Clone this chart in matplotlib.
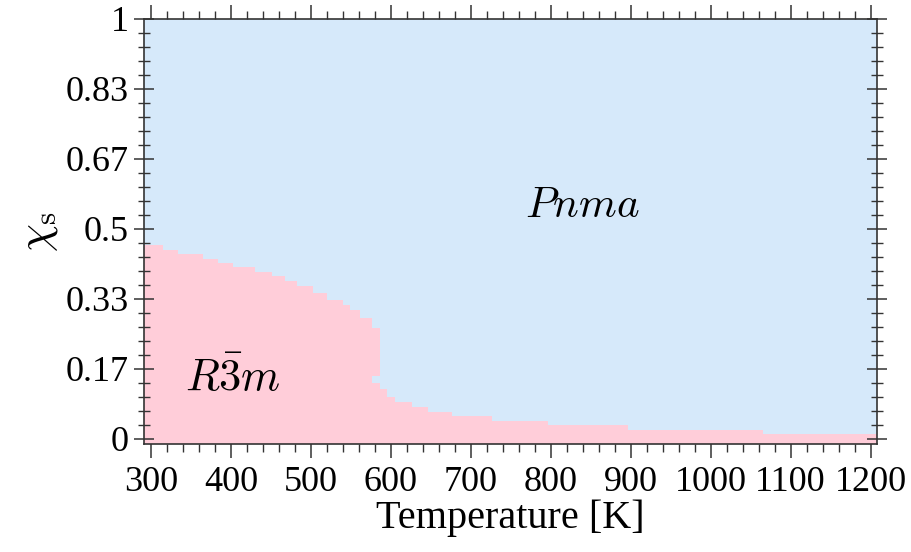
import matplotlib
matplotlib.use('Agg')
import matplotlib.pyplot as plt
import numpy as np
from matplotlib.ticker import MultipleLocator, FixedLocator

plt.rcParams['font.family'] = 'serif'
plt.rcParams['font.serif'] = ['Liberation Serif', 'DejaVu Serif']
plt.rcParams['mathtext.fontset'] = 'cm'

# phase boundary: temperature bin edges [K] and chi_s at which R-3m -> Pnma
T_edges = [290, 315, 334, 365, 384, 402, 430, 451, 468, 482, 502, 520, 540, 549,
           561, 576, 586, 595, 605, 626, 646, 676, 726, 796, 896, 1065, 1210]
chi_boundary = [0.462, 0.450, 0.440, 0.428, 0.418, 0.410, 0.398, 0.387, 0.375,
                0.363, 0.347, 0.331, 0.319, 0.307, 0.288, 0.264, 0.118, 0.100,
                0.088, 0.076, 0.064, 0.055, 0.043, 0.032, 0.021, 0.012]

# small Pnma pocket inside the R-3m column near 580 K
pocket_T = [576, 586]
pocket_chi = [0.133, 0.150]

y_ticks = [0, 1/6, 2/6, 3/6, 4/6, 5/6, 1]
y_ticklabels = ['0', '0.17', '0.33', '0.5', '0.67', '0.83', '1']

pink = '#ffcdd9'
blue = '#d6e9fa'

fig = plt.figure(figsize=(9.11, 5.52), dpi=100)
ax = fig.add_axes([0.158, 0.1957, 0.8047, 0.7699])
ax.set_facecolor(blue)

ax.stairs(chi_boundary, T_edges, baseline=-0.05, fill=True, color=pink, lw=0)
ax.bar((pocket_T[0] + pocket_T[1]) / 2, pocket_chi[1] - pocket_chi[0],
       width=pocket_T[1] - pocket_T[0], bottom=pocket_chi[0], color=blue, lw=0)

ax.text(840, 0.552, r'$Pnma$', fontsize=31, ha='center', va='center')
ax.text(402, 0.145, r'$R\bar{3}m$', fontsize=32, ha='center', va='center')

ax.set_xlim(291, 1208)
ax.set_ylim(-0.012, 1.0)

ax.xaxis.set_major_locator(MultipleLocator(100))
ax.xaxis.set_minor_locator(MultipleLocator(20))
ax.yaxis.set_major_locator(FixedLocator(y_ticks))
ax.set_yticklabels(y_ticklabels)
ax.yaxis.set_minor_locator(MultipleLocator(1/30))

ax.tick_params(axis='x', which='both', direction='out', top=True, bottom=True,
               labelsize=26, color='#333333', pad=6)
ax.tick_params(axis='y', which='both', direction='inout', left=True, right=True,
               labelsize=26, color='#333333', pad=4)
ax.tick_params(which='major', length=10, width=1.1)
ax.tick_params(which='minor', length=6, width=1.0)
ax.tick_params(axis='y', which='major', length=14)
ax.tick_params(axis='y', which='minor', length=8)
for s in ax.spines.values():
    s.set_linewidth(1.2)
    s.set_color('#333333')

ax.set_xlabel('Temperature [K]', fontsize=29, labelpad=0)
ax.set_ylabel(r'$\chi_{\rm s}$', fontsize=32, labelpad=4)

fig.savefig('out.png', dpi=100)
